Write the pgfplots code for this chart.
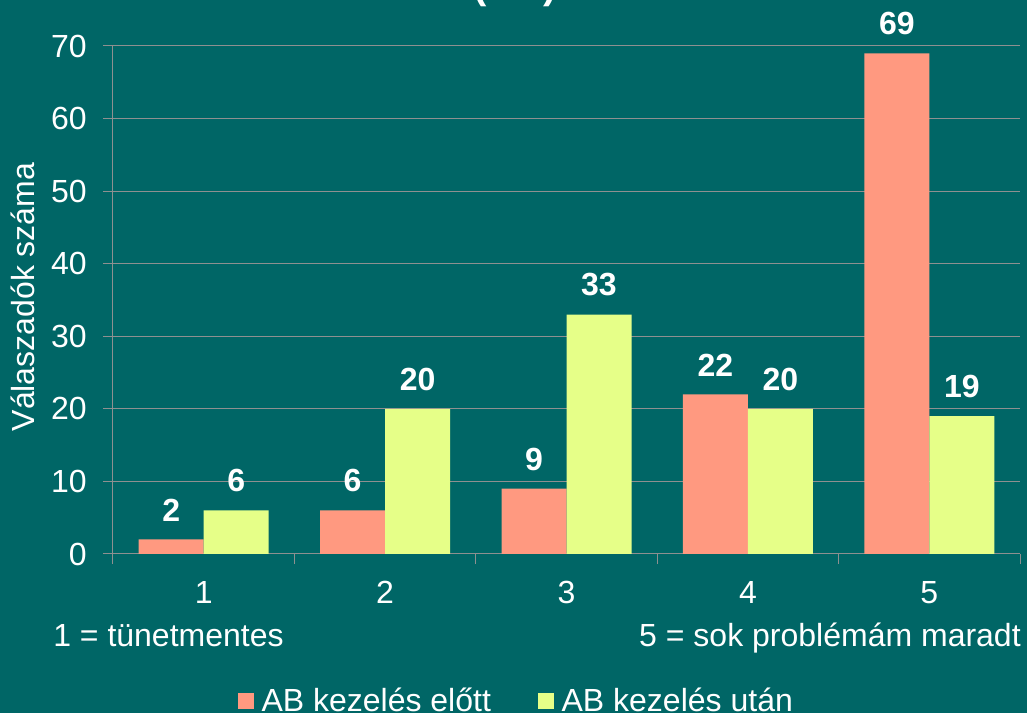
\documentclass[border=0pt]{standalone}
\usepackage{fontspec}
\setmainfont{Liberation Sans}
\usepackage{pgfplots}
\pgfplotsset{compat=1.18}
\definecolor{bg}{HTML}{006666}
\definecolor{salmon}{HTML}{FF9980}
\definecolor{lime}{HTML}{E6FF88}
\definecolor{gridc}{HTML}{8E9090}
\newcommand{\bigf}{\fontsize{24}{28}\selectfont}
\begin{document}
\begin{tikzpicture}[x=0.75pt,y=0.75pt]
\fill[bg] (-10,-10) rectangle (1037,723);
\begin{axis}[
  at={(84.75pt,119.25pt)}, anchor=south west,
  scale only axis, width=680.25pt, height=381pt,
  xmin=0.5, xmax=5.5, ymin=0, ymax=70,
  ybar=0pt, bar width=48.75pt,
  axis x line*=bottom, axis y line*=left,
  axis line style={gridc, line width=0.75pt},
  xtick={1,2,3,4,5},
  minor xtick={0.5,1.5,2.5,3.5,4.5,5.5},
  major x tick style={draw=none},
  minor x tick style={gridc, line width=0.75pt},
  ytick={0,10,...,70},
  major y tick style={gridc, line width=0.75pt},
  ymajorgrids, major grid style={gridc, line width=0.75pt},
  tick align=outside, major tick length=7.5pt, minor tick length=7.5pt,
  /pgf/number format/assume math mode=true,
  ticklabel style={font=\bigf, text=white, inner sep=0pt},
  xticklabel style={anchor=north, yshift=-13pt},
  yticklabel style={anchor=east, xshift=-12pt},
  nodes near coords,
  every node near coord/.append style={font=\bfseries\bigf, text=white, inner sep=0pt, anchor=south, yshift=13.5pt},
  legend columns=2,
  legend style={draw=none, fill=none, text=white, font=\bigf,
    at={(rel axis cs:0.137,-0.3205)}, anchor=south west, inner sep=0pt,
    /tikz/every even column/.append style={column sep=33pt}},
  legend image code/.code={\fill[#1,draw=none] (0pt,-6pt) rectangle (12pt,6pt); \path (16pt,0pt);},
]
\addplot[fill=salmon, draw=none] coordinates {(1,2) (2,6) (3,9) (4,22) (5,69)};
\addplot[fill=lime, draw=none] coordinates {(1,6) (2,20) (3,33) (4,20) (5,19)};
\legend{AB kezelés előtt, AB kezelés után}
\end{axis}
\node[rotate=90, text=white, font=\bigf, inner sep=0pt] at (23,416) {Válaszadók száma};
\node[text=white, font=\bigf, inner sep=0pt, anchor=base west] at (53,66) {1 = tünetmentes};
\node[text=white, font=\bigf, inner sep=0pt, anchor=base east] at (1021,66) {5 = sok problémám maradt};
\node[text=white, font=\bfseries\fontsize{30}{36}\selectfont, inner sep=0pt, anchor=base] at (515,714) {(\hspace{43pt})};
\pgfresetboundingbox
\useasboundingbox (0,0) rectangle (1027,713);
\end{tikzpicture}
\end{document}
